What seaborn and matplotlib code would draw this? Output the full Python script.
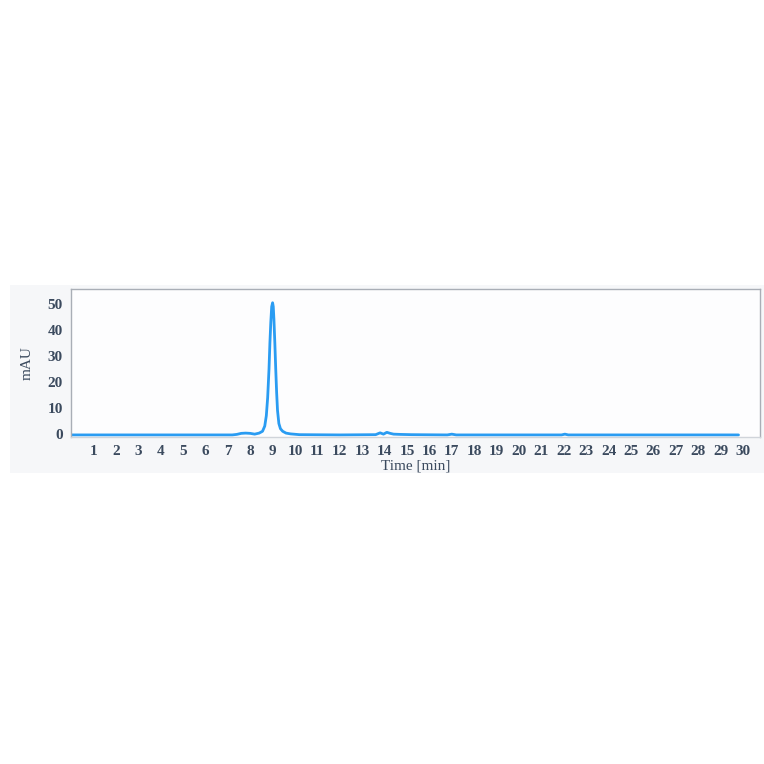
import matplotlib
matplotlib.use("Agg")
import matplotlib.pyplot as plt
import seaborn as sns
import pandas as pd
from matplotlib.patches import Rectangle

# chromatogram trace
time_min = [0.0, 7.2, 7.4, 7.6, 7.8, 8.0, 8.2, 8.4, 8.55, 8.65, 8.72, 8.78, 8.84,
            8.88, 8.92, 8.96, 9.0, 9.03, 9.06, 9.1, 9.14, 9.18, 9.22, 9.28, 9.35,
            9.45, 9.6, 9.8, 10.2, 12.0, 13.6, 13.8, 13.95, 14.1, 14.25, 14.4, 14.7,
            15.2, 16.8, 17.0, 17.2, 21.9, 22.05, 22.2, 29.8]
mau = [-0.4, -0.4, -0.2, 0.2, 0.3, 0.2, -0.1, 0.3, 1.0, 3.0, 7.0, 14.0, 25.0,
       35.0, 43.0, 49.0, 50.5, 49.0, 44.0, 35.0, 25.0, 16.0, 9.0, 4.0, 2.0,
       1.0, 0.3, 0.0, -0.3, -0.4, -0.3, 0.4, -0.1, 0.6, 0.2, -0.1, -0.2,
       -0.3, -0.4, -0.1, -0.4, -0.4, -0.1, -0.4, -0.4]
x_ticks = list(range(1, 31))
y_ticks = [0, 10, 20, 30, 40, 50]

df = pd.DataFrame({"time": time_min, "mAU": mau})

sns.set_style("white")
plt.rcParams["font.family"] = ["Liberation Serif", "DejaVu Serif"]

text_col = "#3b4a5e"
fig = plt.figure(figsize=(7.64, 7.64), dpi=100)
fig.patch.set_facecolor("white")
fig.patches.append(Rectangle((10 / 764, 1 - 473 / 764), 754 / 764, 188 / 764,
                             transform=fig.transFigure, facecolor="#f6f7f9",
                             edgecolor="none", zorder=-10))

ax = fig.add_axes([71 / 764, 1 - 437 / 764, 689 / 764, 148 / 764])
ax.set_zorder(1)
ax.set_facecolor("#fdfdfe")
sns.lineplot(data=df, x="time", y="mAU", ax=ax, color="#2a9cf2", lw=2.0)

ax.set_xlim(0, 30.76)
ax.set_ylim(-1.2, 55.8)
ax.set_xticks(x_ticks)
ax.set_yticks(y_ticks)
ax.tick_params(axis="both", labelsize=11, colors="#9aa3ad", labelcolor=text_col,
               length=3, width=0.8, pad=3)
for lab in ax.get_xticklabels() + ax.get_yticklabels():
    lab.set_fontweight("bold")
ax.set_xlabel("Time [min]", fontsize=11, color=text_col, labelpad=1)
ax.set_ylabel("mAU", fontsize=11, color=text_col, labelpad=10)
for side in ["left", "right", "top", "bottom"]:
    ax.spines[side].set_color("#a9aeb6")
    ax.spines[side].set_linewidth(1.0)
ax.spines["bottom"].set_color("#d0d4da")

fig.savefig("out.png", dpi=100)
